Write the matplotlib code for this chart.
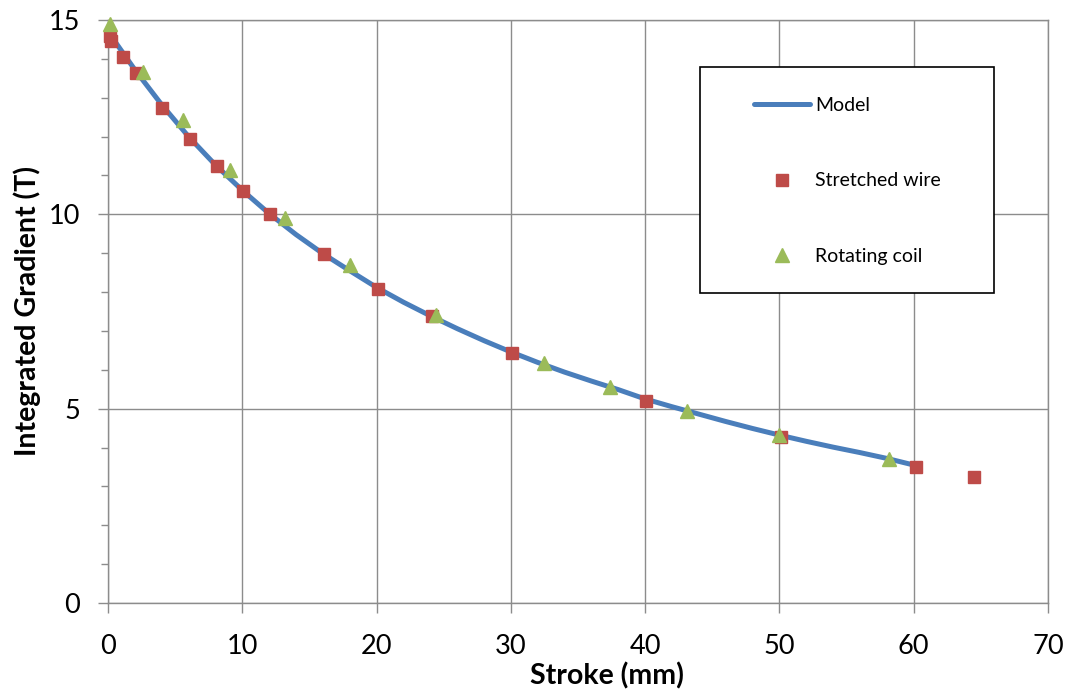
import matplotlib
matplotlib.use("Agg")
import matplotlib.pyplot as plt
from matplotlib.patches import Rectangle
from matplotlib.ticker import MultipleLocator

plt.rcParams['font.family'] = ['Lato', 'DejaVu Sans']

# model curve
model_x = [0, 2, 4, 6, 8, 10, 12, 14, 16, 18, 20, 22, 24, 26, 28, 30,
           32, 34, 36, 38, 40, 42, 44, 46, 48, 50, 52, 54, 56, 58, 60]
model_y = [14.7, 13.72, 12.82, 12.0, 11.27, 10.62, 10.02, 9.48, 8.99, 8.55, 8.12,
           7.74, 7.39, 7.06, 6.75, 6.46, 6.19, 5.94, 5.71, 5.49, 5.25,
           5.05, 4.86, 4.67, 4.49, 4.32, 4.16, 4.01, 3.87, 3.72, 3.55]

# stretched wire measurements
wire_x = [0.15, 0.2, 1.1, 2.1, 4.05, 6.1, 8.1, 10.05, 12.05, 16.1, 20.1, 24.1, 30.1, 40.05, 50.1, 60.2, 64.5]
wire_y = [14.6, 14.45, 14.06, 13.63, 12.74, 11.95, 11.24, 10.6, 10.0, 8.99, 8.09, 7.38, 6.42, 5.19, 4.27, 3.51, 3.25]

# rotating coil measurements
coil_x = [0.15, 2.6, 5.6, 9.1, 13.2, 18.0, 24.4, 32.5, 37.4, 43.1, 49.95, 58.15]
coil_y = [14.9, 13.67, 12.43, 11.14, 9.91, 8.69, 7.42, 6.18, 5.56, 4.93, 4.33, 3.70]

grid_col = '#8c8c8c'

fig = plt.figure(figsize=(10.69, 6.91), dpi=100)
ax = fig.add_axes([108/1069, 1 - 603/691, 940/1069, 583/691])

ax.plot(model_x, model_y, color='#4a7ebb', lw=3.6, label='Model', solid_capstyle='round', zorder=3)
ax.plot(wire_x, wire_y, 's', color='#be4b48', ms=8.5, mec='#be4b48', label='Stretched wire', clip_on=False, zorder=4)
ax.plot(coil_x, coil_y, '^', color='#9bbb59', ms=10, mec='#9bbb59', label='Rotating coil', clip_on=False, zorder=5)

ax.set_xlim(0, 70)
ax.set_ylim(0, 15)
ax.xaxis.set_major_locator(MultipleLocator(10))
ax.yaxis.set_major_locator(MultipleLocator(5))
ax.yaxis.set_minor_locator(MultipleLocator(1))
ax.grid(True, which='major', color=grid_col, lw=1.0)
ax.set_axisbelow(True)
for s in ax.spines.values():
    s.set_color(grid_col)
    s.set_linewidth(1.0)
ax.tick_params(axis='both', which='major', length=7, width=1.0, color=grid_col,
               labelsize=19.5, labelcolor='black')
ax.tick_params(axis='x', which='major', pad=15)
ax.tick_params(axis='y', which='major', pad=13)
ax.tick_params(axis='y', which='minor', length=5, width=1.0, color=grid_col)

ax.set_xlabel('Stroke (mm)', fontsize=20.5, fontweight='bold', labelpad=2.5)
ax.xaxis.label.set_x(0.531)
ax.set_ylabel('Integrated Gradient (T)', fontsize=20.5, fontweight='bold', labelpad=6)

# legend with a fixed frame
fig.patches.append(Rectangle((700/1069, 1 - 293/691), 294/1069, 226/691,
                             transform=fig.transFigure, fill=True, facecolor='white',
                             edgecolor='black', lw=1.2, zorder=10))
leg = fig.legend(loc='upper left', bbox_to_anchor=(754/1069, 1 - 97/691), frameon=False,
                 fontsize=14, handlelength=2.9, handletextpad=0.25, labelspacing=3.0,
                 borderpad=0, borderaxespad=0)
leg.set_zorder(11)

fig.savefig('out.png', dpi=100)
